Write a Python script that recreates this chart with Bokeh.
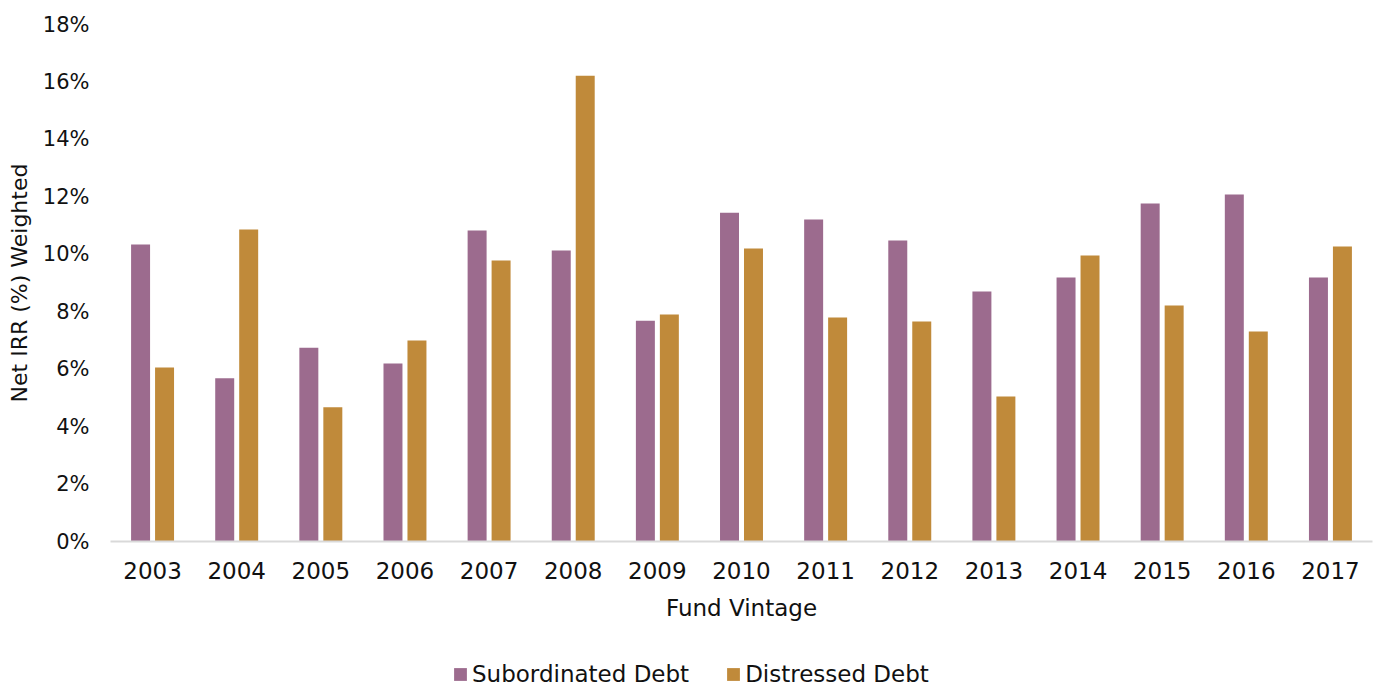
from bokeh.plotting import figure
from bokeh.layouts import column
from bokeh.models import (ColumnDataSource, FactorRange, Range1d, FixedTicker,
                          PrintfTickFormatter, Legend, LegendItem)
from bokeh.transform import dodge
from bokeh.embed import file_html
from bokeh.resources import INLINE

years = ["2003", "2004", "2005", "2006", "2007", "2008", "2009", "2010",
         "2011", "2012", "2013", "2014", "2015", "2016", "2017"]
subordinated = [10.34, 5.68, 6.75, 6.20, 10.83, 10.13, 7.69, 11.45,
                11.21, 10.48, 8.70, 9.19, 11.77, 12.08, 9.19]
distressed = [6.06, 10.86, 4.67, 7.00, 9.78, 16.22, 7.90, 10.20,
              7.80, 7.66, 5.05, 9.96, 8.22, 7.31, 10.27]
y_ticks = [0, 2, 4, 6, 8, 10, 12, 14, 16, 18]
series_names = ["Subordinated Debt", "Distressed Debt"]

FONT = "DejaVu Sans"
SUB_C = "#9c6b8e"
DIS_C = "#c08a3a"

src = ColumnDataSource(dict(year=years, sub=subordinated, dis=distressed))

p = figure(width=1377, height=646, x_range=FactorRange(*years),
           y_range=Range1d(0, 18), output_backend="svg", toolbar_location=None,
           min_border_left=110, min_border_right=5, min_border_top=24,
           min_border_bottom=105)
p.outline_line_color = None
p.xgrid.grid_line_color = None
p.ygrid.grid_line_color = None
p.x_range.range_padding = 0

p.vbar(x=dodge("year", -0.1425, range=p.x_range), top="sub", width=0.2256,
       source=src, fill_color=SUB_C, line_color=None)
p.vbar(x=dodge("year", 0.1425, range=p.x_range), top="dis", width=0.2256,
       source=src, fill_color=DIS_C, line_color=None)

p.yaxis.ticker = FixedTicker(ticks=y_ticks)
p.yaxis.formatter = PrintfTickFormatter(format="%d%%")
p.yaxis.axis_line_color = None
p.yaxis.major_tick_line_color = None
p.yaxis.major_tick_out = 0
p.yaxis.major_tick_in = 0
p.yaxis.minor_tick_line_color = None
p.yaxis.major_label_standoff = 21
p.yaxis.major_label_text_font = FONT
p.yaxis.major_label_text_font_size = "21px"
p.yaxis.major_label_text_color = "#111111"
p.yaxis.axis_label = "Net IRR (%) Weighted"
p.yaxis.axis_label_text_font = FONT
p.yaxis.axis_label_text_font_size = "22px"
p.yaxis.axis_label_text_font_style = "normal"
p.yaxis.axis_label_text_color = "#111111"
p.yaxis.axis_label_standoff = 8

p.xaxis.axis_line_color = "#d9d9d9"
p.xaxis.axis_line_width = 2
p.xaxis.major_tick_line_color = None
p.xaxis.minor_tick_line_color = None
p.xaxis.major_label_standoff = 14
p.xaxis.major_label_text_font = FONT
p.xaxis.major_label_text_font_size = "23px"
p.xaxis.major_label_text_color = "#111111"
p.xaxis.axis_label = "Fund Vintage"
p.xaxis.axis_label_text_font = FONT
p.xaxis.axis_label_text_font_size = "23px"
p.xaxis.axis_label_text_font_style = "normal"
p.xaxis.axis_label_text_color = "#111111"
p.xaxis.axis_label_standoff = 13

# legend strip
lg = figure(width=1377, height=40, x_range=Range1d(0, 1), y_range=Range1d(0, 1),
            output_backend="svg", toolbar_location=None,
            min_border_left=0, min_border_right=0, min_border_top=0,
            min_border_bottom=0)
lg.axis.visible = False
lg.grid.visible = False
lg.outline_line_color = None
blank = ColumnDataSource(dict(x=[float("nan")], top=[float("nan")]))
d1 = lg.vbar(x="x", top="top", width=0.1, source=blank, fill_color=SUB_C, line_color=None)
d2 = lg.vbar(x="x", top="top", width=0.1, source=blank, fill_color=DIS_C, line_color=None)

legend = Legend(items=[LegendItem(label=series_names[0], renderers=[d1]),
                       LegendItem(label=series_names[1], renderers=[d2])],
                orientation="horizontal", location=(342, -1),
                label_text_font=FONT, label_text_font_size="23px",
                label_text_color="#111111",
                glyph_width=16, glyph_height=16, label_standoff=4, spacing=36,
                padding=0, margin=0, border_line_color=None,
                background_fill_alpha=0)
lg.add_layout(legend, "center")

open("out.html", "w").write(file_html(column(p, lg, spacing=0), INLINE))
